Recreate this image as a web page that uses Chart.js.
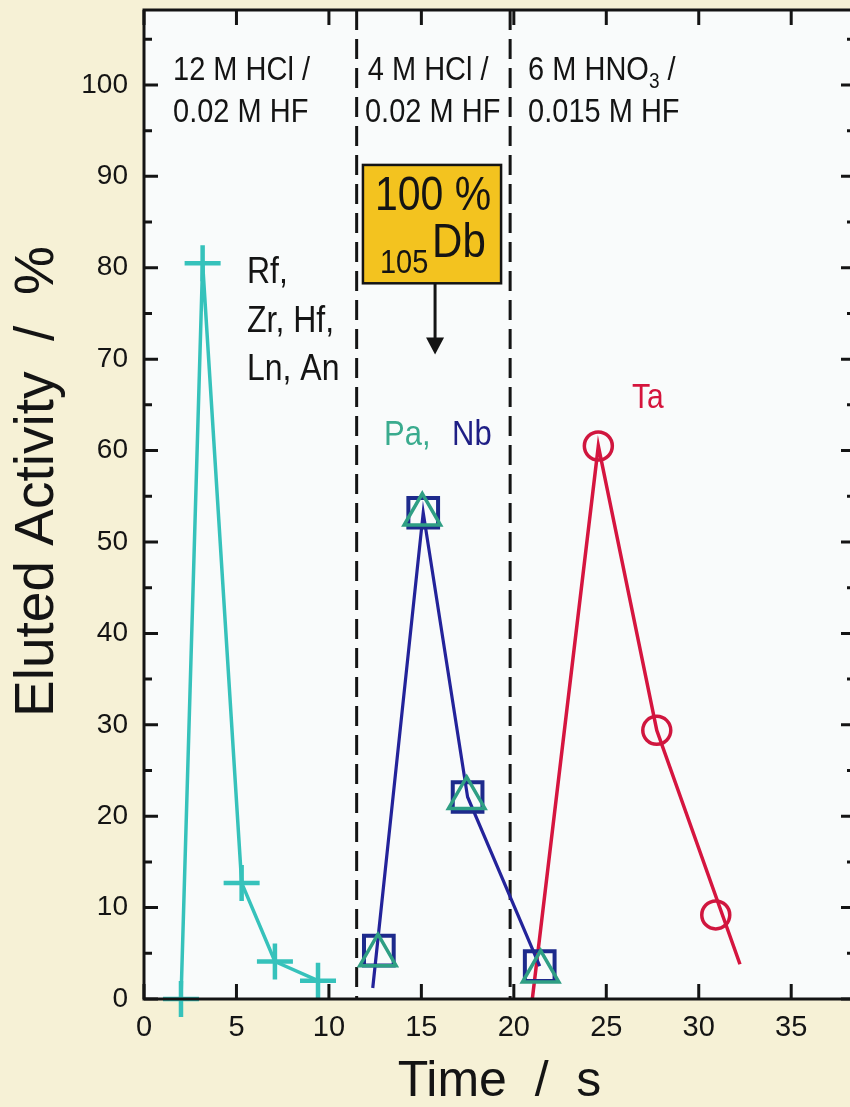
<!DOCTYPE html>
<html>
<head>
<meta charset="utf-8">
<script src="https://cdn.jsdelivr.net/npm/chart.js@4.4.1/dist/chart.umd.min.js"></script>
<style>
  html, body { margin: 0; padding: 0; background: #f6f1d6; overflow: hidden; }
  #wrap { width: 870px; height: 1107px; }
</style>
</head>
<body>
<div id="wrap"><canvas id="chart" width="870" height="1107"></canvas></div>
<script>
// axis ticks
const xTicks = [0, 5, 10, 15, 20, 25, 30, 35];
const yTicks = [0, 10, 20, 30, 40, 50, 60, 70, 80, 90, 100];
const yMinor = [5, 15, 25, 35, 45, 55, 65, 75, 85, 95, 105];

// Rf, Zr, Hf, Ln, An  (12 M HCl fraction)
const rfX = [2.0, 3.17, 5.28, 7.08, 9.41];
const rfY = [0, 80.5, 12.7, 4.1, 2.0];

// Nb (squares) and Pa (triangles), 4 M HCl fraction
const nbLineX = [12.37, 15.1, 17.5, 21.4];
const nbLineY = [1.2, 53.2, 22.1, 3.6];
const nbX = [12.7, 15.1, 17.5, 21.4];
const nbY = [5.3, 53.2, 22.1, 3.6];
const paX = [12.65, 15.05, 17.45, 21.45];
const paY = [4.8, 53.0, 22.0, 3.0];

// Ta (circles), 6 M HNO3 fraction
const taLineX = [21.0, 24.57, 27.73, 32.23];
const taLineY = [0, 60.5, 29.4, 3.8];
const taX = [24.57, 27.73, 30.92];
const taY = [60.5, 29.4, 9.2];

// solution changes
const phaseBounds = [11.5, 19.8];

const FONT = "'Liberation Sans', Arial, Helvetica, sans-serif";
const STRETCH = 1.15;
const INK = '#141414';

Chart.defaults.font.family = FONT;

const pts = (xs, ys) => xs.map((x, i) => ({ x: x, y: ys[i] }));

// text notes in data coordinates (x = left edge, y = baseline)
const notes = [
  { x: 1.57, y: 100.5, parts: [['12 M HCl /', 29]] },
  { x: 1.57, y: 95.95, parts: [['0.02 M HF', 29]] },
  { x: 12.1, y: 100.5, parts: [['4 M HCl /', 29]] },
  { x: 11.95, y: 95.95, parts: [['0.02 M HF', 29]] },
  { x: 20.77, y: 100.5, parts: [['6 M HNO', 29], ['3', 19, 8], [' /', 29]] },
  { x: 20.77, y: 95.95, parts: [['0.015 M HF', 29]] },
  { x: 5.57, y: 78.3, parts: [['Rf,', 32]] },
  { x: 5.57, y: 73.0, parts: [['Zr, Hf,', 32]] },
  { x: 5.57, y: 67.7, parts: [['Ln, An', 32]] },
  { x: 12.98, y: 60.6, parts: [['Pa,', 31]], color: '#3aab8e' },
  { x: 16.66, y: 60.6, parts: [['Nb', 31]], color: '#1f1f85' },
  { x: 26.39, y: 64.7, parts: [['Ta', 30]], color: '#d5143c' }
];

function drawNote(ctx, px, py, parts, color) {
  let cx = px;
  parts.forEach(function (p) {
    ctx.save();
    ctx.font = p[1] + 'px ' + FONT;
    ctx.fillStyle = color || INK;
    ctx.textBaseline = 'alphabetic';
    ctx.translate(cx, py + (p[2] || 0));
    ctx.scale(1, STRETCH);
    ctx.fillText(p[0], 0, 0);
    cx += ctx.measureText(p[0]).width;
    ctx.restore();
  });
}

const framePlugin = {
  id: 'frame',
  beforeDraw(chart) {
    const a = chart.chartArea, ctx = chart.ctx;
    ctx.save();
    ctx.fillStyle = '#f9fbfb';
    ctx.fillRect(a.left, a.top, a.right - a.left, a.bottom - a.top);
    ctx.restore();
  },
  afterDraw(chart) {
    const a = chart.chartArea, ctx = chart.ctx;
    const xs = chart.scales.x, ys = chart.scales.y;
    ctx.save();
    ctx.strokeStyle = INK;
    ctx.lineWidth = 3;
    ctx.strokeRect(a.left, a.top, a.right - a.left, a.bottom - a.top);

    // inward ticks
    ctx.beginPath();
    xTicks.forEach(function (v) {
      const px = xs.getPixelForValue(v);
      ctx.moveTo(px, a.bottom); ctx.lineTo(px, a.bottom - 15);
      ctx.moveTo(px, a.top); ctx.lineTo(px, a.top + 15);
    });
    yTicks.forEach(function (v) {
      const py = ys.getPixelForValue(v);
      ctx.moveTo(a.left, py); ctx.lineTo(a.left + 14, py);
      ctx.moveTo(a.right, py); ctx.lineTo(a.right - 14, py);
    });
    yMinor.forEach(function (v) {
      const py = ys.getPixelForValue(v);
      ctx.moveTo(a.left, py); ctx.lineTo(a.left + 8, py);
      ctx.moveTo(a.right, py); ctx.lineTo(a.right - 8, py);
    });
    ctx.stroke();

    // yellow 105Db box with arrow
    const bx0 = xs.getPixelForValue(11.84), bx1 = xs.getPixelForValue(19.31);
    const by0 = ys.getPixelForValue(91.25), by1 = ys.getPixelForValue(78.3);
    ctx.fillStyle = '#f3c31f';
    ctx.fillRect(bx0, by0, bx1 - bx0, by1 - by0);
    ctx.lineWidth = 2.5;
    ctx.strokeRect(bx0, by0, bx1 - bx0, by1 - by0);
    drawNote(ctx, xs.getPixelForValue(12.49), ys.getPixelForValue(86.3), [['100 %', 41]]);
    drawNote(ctx, xs.getPixelForValue(12.76), ys.getPixelForValue(79.4), [['105', 29]]);
    drawNote(ctx, xs.getPixelForValue(15.58), ys.getPixelForValue(81.2), [['Db', 42]]);

    const ax = xs.getPixelForValue(15.74);
    const tip = ys.getPixelForValue(70.5);
    ctx.lineWidth = 3;
    ctx.beginPath();
    ctx.moveTo(ax, by1); ctx.lineTo(ax, tip - 10);
    ctx.stroke();
    ctx.fillStyle = INK;
    ctx.beginPath();
    ctx.moveTo(ax, tip); ctx.lineTo(ax - 9, tip - 17); ctx.lineTo(ax + 9, tip - 17);
    ctx.closePath();
    ctx.fill();

    notes.forEach(function (n) {
      drawNote(ctx, xs.getPixelForValue(n.x), ys.getPixelForValue(n.y), n.parts, n.color);
    });
    ctx.restore();
  }
};

const datasets = [
  { label: 'Pa', data: pts(paX, paY), showLine: false, pointStyle: 'triangle', clip: false,
    pointRadius: 21, pointBorderWidth: 3.5, pointBorderColor: '#2f9f84', pointBackgroundColor: 'rgba(0,0,0,0)' },
  { label: 'Nb', data: pts(nbX, nbY), showLine: false, pointStyle: 'rect', clip: false,
    pointRadius: 21, pointBorderWidth: 4, pointBorderColor: '#1d2a8c', pointBackgroundColor: 'rgba(0,0,0,0)' },
  { label: 'Ta', data: pts(taX, taY), showLine: false, pointStyle: 'circle', clip: false,
    pointRadius: 14, pointBorderWidth: 3.5, pointBorderColor: '#d0163e', pointBackgroundColor: 'rgba(0,0,0,0)' },
  { label: 'Rf, Zr, Hf, Ln, An', data: pts(rfX, rfY), showLine: true, borderColor: '#36c2bb', borderWidth: 3.5,
    clip: false, pointStyle: 'cross', pointRadius: 18, pointBorderWidth: 4.5, pointBorderColor: '#36c2bb' },
  { label: 'Nb line', data: pts(nbLineX, nbLineY), showLine: true, borderColor: '#23239a', borderWidth: 3.2, pointRadius: 0 },
  { label: 'Ta line', data: pts(taLineX, taLineY), showLine: true, borderColor: '#d5153f', borderWidth: 3.5, pointRadius: 0 }
];
phaseBounds.forEach(function (b) {
  datasets.push({ label: 'bound', data: [{ x: b, y: 108.2 }, { x: b, y: 0 }], showLine: true,
    borderColor: INK, borderWidth: 3, borderDash: [20, 9], pointRadius: 0 });
});

new Chart(document.getElementById('chart'), {
  type: 'scatter',
  data: { datasets: datasets },
  options: {
    responsive: false,
    animation: false,
    events: [],
    layout: { autoPadding: false, padding: { left: 0, top: 10, right: 15, bottom: 0 } },
    plugins: { legend: { display: false }, tooltip: { enabled: false } },
    scales: {
      x: {
        type: 'linear', min: 0, max: 38.45,
        afterBuildTicks: function (s) { s.ticks = xTicks.map(function (v) { return { value: v }; }); },
        afterFit: function (s) { s.height = 108; s.paddingLeft = 0; s.paddingRight = 0; },
        grid: { display: false, drawTicks: false },
        border: { display: false },
        ticks: { color: INK, font: { size: 29 }, padding: 12, maxRotation: 0, autoSkip: false },
        title: { display: true, text: 'Time  /  s', color: INK, font: { size: 50, lineHeight: 1 }, padding: 0 }
      },
      y: {
        type: 'linear', min: 0, max: 108.2,
        afterBuildTicks: function (s) { s.ticks = yTicks.map(function (v) { return { value: v }; }); },
        afterFit: function (s) { s.width = 144; s.paddingTop = 0; s.paddingBottom = 0; },
        grid: { display: false, drawTicks: false },
        border: { display: false },
        ticks: { color: INK, font: { size: 28 }, padding: 16, autoSkip: false },
        title: { display: true, text: '   Eluted Activity  /  %', color: INK,
          font: { size: 55, lineHeight: 1.2 }, padding: { top: 5, bottom: 0 } }
      }
    }
  },
  plugins: [framePlugin]
});
</script>
</body>
</html>
